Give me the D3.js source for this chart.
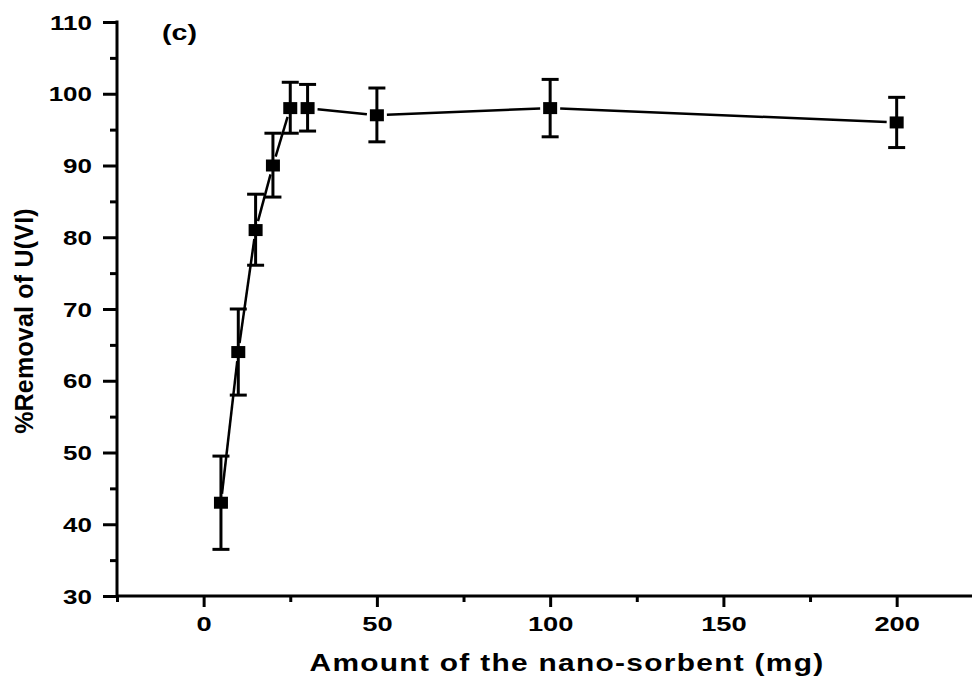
<!DOCTYPE html>
<html>
<head>
<meta charset="utf-8">
<script src="https://cdn.jsdelivr.net/npm/d3@7"></script>
<style>
  html, body { margin: 0; padding: 0; background: #fff; }
  svg { display: block; }
  text { font-family: "Liberation Sans", Arial, sans-serif; font-weight: bold; fill: #000; }
</style>
</head>
<body>
<svg id="chart" width="972" height="679"></svg>
<script>
// ---- data ----
const amounts = [5, 10, 15, 20, 25, 30, 50, 100, 200];           // mg
const removal = [43, 64, 81, 90, 98, 98, 97, 98, 96];            // %
const errUpper = [49.5, 70, 86, 94.5, 101.6, 101.3, 100.8, 102, 99.5];
const errLower = [36.5, 58, 76.1, 85.6, 94.5, 94.8, 93.3, 94, 92.5];
const xTicks = [0, 50, 100, 150, 200];
const xMinorTicks = [-25, 25, 75, 125, 175];
const yTicks = [30, 40, 50, 60, 70, 80, 90, 100, 110];
const yMinorTicks = [35, 45, 55, 65, 75, 85, 95, 105];
const xTitle = "Amount of the nano-sorbent (mg)";
const yTitle = "%Removal of U(VI)";
const panelLabel = "(c)";

const svg = d3.select("#chart");
const x = d3.scaleLinear().domain([-25, 225]).range([117, 983.3]);
const y = d3.scaleLinear().domain([30, 110]).range([596, 22]);
const X0 = x(-25), Y0 = y(30);

// ---- axes ----
const xAxisG = svg.append("g").attr("transform", `translate(0,${Y0})`);
xAxisG.call(d3.axisBottom(x).tickValues(xMinorTicks).tickSize(6).tickFormat(""));
xAxisG.call(g => g.select(".domain").remove());
const xMajor = svg.append("g").attr("transform", `translate(0,${Y0})`)
  .call(d3.axisBottom(x).tickValues(xTicks).tickSize(11).tickFormat(d3.format("d")));
xMajor.select(".domain").remove();
xMajor.selectAll("text")
  .attr("y", 35).attr("dy", 0)
  .attr("transform", "scale(1.3,1)")
  .style("font-size", "21px");

const yMinorG = svg.append("g").attr("transform", `translate(${X0},0)`)
  .call(d3.axisLeft(y).tickValues(yMinorTicks).tickSize(7).tickFormat(""));
yMinorG.select(".domain").remove();
const yMajor = svg.append("g").attr("transform", `translate(${X0},0)`)
  .call(d3.axisLeft(y).tickValues(yTicks).tickSize(14).tickFormat(d3.format("d")));
yMajor.select(".domain").remove();
yMajor.selectAll("text")
  .attr("x", -25 / 1.3)
  .attr("dy", "0.36em")
  .attr("transform", "scale(1.3,1)")
  .style("font-size", "20px");

svg.selectAll(".tick line").attr("stroke", "#000").attr("stroke-width", 3);

// axis lines
svg.append("line").attr("x1", X0).attr("x2", x(225)).attr("y1", Y0).attr("y2", Y0)
  .attr("stroke", "#000").attr("stroke-width", 3);
svg.append("line").attr("x1", X0).attr("x2", X0).attr("y1", y(110) - 1.5).attr("y2", Y0 + 1.5)
  .attr("stroke", "#000").attr("stroke-width", 3);

// ---- connecting line, with small gaps at the markers ----
const hw = 7, hh = 6, gap = 3;
const pts = amounts.map((a, i) => [x(a), y(removal[i])]);
function edgeDist(dx, dy) {
  const ax = Math.abs(dx), ay = Math.abs(dy);
  const tx = ax > 0 ? hw / ax : Infinity, ty = ay > 0 ? hh / ay : Infinity;
  return Math.min(tx, ty) * Math.hypot(dx, dy);
}
const segs = [];
for (let i = 0; i < pts.length - 1; i++) {
  const [x1, y1] = pts[i], [x2, y2] = pts[i + 1];
  const dx = x2 - x1, dy = y2 - y1, L = Math.hypot(dx, dy);
  const ux = dx / L, uy = dy / L;
  const d = edgeDist(dx, dy) + gap;
  if (L > 2 * d) segs.push([x1 + ux * d, y1 + uy * d, x2 - ux * d, y2 - uy * d]);
}
svg.append("g").selectAll("line").data(segs).join("line")
  .attr("x1", d => d[0]).attr("y1", d => d[1]).attr("x2", d => d[2]).attr("y2", d => d[3])
  .attr("stroke", "#000").attr("stroke-width", 2.5);

// ---- error bars ----
const eb = svg.append("g").attr("stroke", "#000").attr("stroke-width", 3);
amounts.forEach((a, i) => {
  const cx = x(a);
  eb.append("line").attr("x1", cx).attr("x2", cx).attr("y1", y(errUpper[i])).attr("y2", y(errLower[i]));
  eb.append("line").attr("x1", cx - 8.5).attr("x2", cx + 8.5).attr("y1", y(errUpper[i])).attr("y2", y(errUpper[i]));
  eb.append("line").attr("x1", cx - 8.5).attr("x2", cx + 8.5).attr("y1", y(errLower[i])).attr("y2", y(errLower[i]));
});

// ---- markers ----
svg.append("g").selectAll("rect").data(amounts).join("rect")
  .attr("x", d => x(d) - hw).attr("y", (d, i) => y(removal[i]) - hh)
  .attr("width", 2 * hw).attr("height", 2 * hh).attr("fill", "#000");

// ---- titles ----
svg.append("g").attr("transform", "translate(567,671) scale(1.3,1)")
  .append("text").attr("text-anchor", "middle")
  .style("font-size", "23px").style("letter-spacing", "1px")
  .text(xTitle);
svg.append("text").attr("transform", "translate(33,321) rotate(-90)")
  .attr("text-anchor", "middle").style("font-size", "25px").style("letter-spacing", "0.2px")
  .text(yTitle);
svg.append("g").attr("transform", "translate(162,40) scale(1.3,1)")
  .append("text").style("font-size", "22px").text(panelLabel);
</script>
</body>
</html>
